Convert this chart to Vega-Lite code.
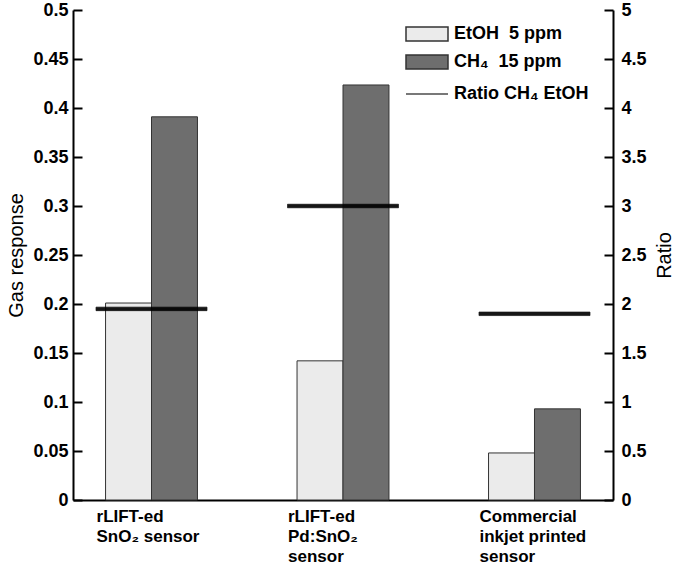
{
  "$schema": "https://vega.github.io/schema/vega-lite/v6.json",
  "autosize": {"type": "none"},
  "padding": {"left": 73, "top": 10, "right": 62, "bottom": 66},
  "width": 540,
  "height": 490,
  "background": "white",
  "config": {
    "view": {"stroke": null},
    "font": "Liberation Sans",
    "axis": {
      "domainColor": "black", "domainWidth": 2, "tickColor": "black", "tickWidth": 2,
      "labelFont": "Liberation Sans", "labelFontWeight": "bold", "labelFontSize": 18, "labelColor": "black",
      "titleFont": "Liberation Sans", "titleFontWeight": "normal", "titleFontSize": 20, "titleColor": "black",
      "grid": false
    },
    "legend": {
      "labelFont": "Liberation Sans", "labelFontWeight": "bold", "labelFontSize": 18, "labelColor": "black"
    }
  },
  "data": {
    "values": [
      {"sensor": "rLIFT-ed|SnO₂ sensor", "series": "EtOH\u00a0\u00a05 ppm", "value": 0.201, "ratio": 1.95},
      {"sensor": "rLIFT-ed|SnO₂ sensor", "series": "CH₄\u00a0\u00a015 ppm", "value": 0.391, "ratio": 1.95},
      {"sensor": "rLIFT-ed|Pd:SnO₂|sensor", "series": "EtOH\u00a0\u00a05 ppm", "value": 0.142, "ratio": 3.0},
      {"sensor": "rLIFT-ed|Pd:SnO₂|sensor", "series": "CH₄\u00a0\u00a015 ppm", "value": 0.4235, "ratio": 3.0},
      {"sensor": "Commercial|inkjet printed|sensor", "series": "EtOH\u00a0\u00a05 ppm", "value": 0.048, "ratio": 1.9},
      {"sensor": "Commercial|inkjet printed|sensor", "series": "CH₄\u00a0\u00a015 ppm", "value": 0.093, "ratio": 1.9}
    ]
  },
  "encoding": {
    "x": {
      "field": "sensor", "type": "nominal", "sort": null,
      "scale": {"paddingInner": 0.52, "paddingOuter": 0.17},
      "axis": {
        "title": null, "ticks": false, "labelAngle": 0, "labelAlign": "left", "labelBaseline": "top",
        "labelOffset": -55, "labelPadding": 8, "labelLineHeight": 20, "labelFontSize": 17,
        "labelExpr": "split(datum.label, '|')"
      }
    }
  },
  "layer": [
    {
      "mark": {"type": "bar", "stroke": "#333333", "strokeWidth": 1},
      "encoding": {
        "xOffset": {"field": "series", "type": "nominal", "sort": ["EtOH\u00a0\u00a05 ppm", "CH₄\u00a0\u00a015 ppm"], "scale": {"paddingInner": 0, "paddingOuter": 0}},
        "y": {
          "field": "value", "type": "quantitative",
          "scale": {"domain": [0, 0.5], "nice": false},
          "axis": {
            "title": "Gas response", "orient": "left",
            "values": [0, 0.05, 0.1, 0.15, 0.2, 0.25, 0.3, 0.35, 0.4, 0.45, 0.5],
            "format": ".2~f", "ticks": false, "labelPadding": 5, "titlePadding": 6
          }
        },
        "fill": {
          "field": "series", "type": "nominal",
          "sort": ["EtOH\u00a0\u00a05 ppm", "CH₄\u00a0\u00a015 ppm"],
          "scale": {"domain": ["EtOH\u00a0\u00a05 ppm", "CH₄\u00a0\u00a015 ppm"], "range": ["#ebebeb", "#6e6e6e"]},
          "legend": {
            "title": null, "orient": "none", "legendX": 339, "legendY": 9,
            "symbolType": "M-1.5,-0.5H1.5V0.5H-1.5Z", "symbolSize": 784,
            "symbolStrokeColor": "#333333", "symbolStrokeWidth": 1.5,
            "labelOffset": 12, "rowPadding": 3
          }
        }
      }
    },
    {
      "mark": {"type": "tick", "size": 111, "thickness": 3.5, "color": "black", "fill": "black", "strokeWidth": 0.5},
      "encoding": {
        "y": {
          "field": "ratio", "type": "quantitative",
          "scale": {"domain": [0, 5], "nice": false},
          "axis": {
            "title": "Ratio", "orient": "right", "titleAngle": 270, "titleBaseline": "bottom",
            "values": [0, 0.5, 1, 1.5, 2, 2.5, 3, 3.5, 4, 4.5, 5],
            "format": ".1~f", "ticks": false, "labelPadding": 8, "titlePadding": 28
          }
        },
        "stroke": {
          "datum": "Ratio CH₄ EtOH",
          "scale": {"range": ["black"]},
          "legend": {
            "title": null, "orient": "none", "legendX": 339, "legendY": 69,
            "symbolType": "M-1.5,0H1.5", "symbolSize": 784, "symbolFillColor": "transparent",
            "symbolStrokeColor": "black", "symbolStrokeWidth": 1.5,
            "labelOffset": 12
          }
        }
      }
    },
    {
      "mark": {"type": "point", "opacity": 0},
      "encoding": {
        "y": {
          "field": "value", "type": "quantitative",
          "scale": {"domain": [0, 0.5], "nice": false},
          "axis": {
            "title": null, "orient": "right", "offset": -540,
            "values": [0, 0.05, 0.1, 0.15, 0.2, 0.25, 0.3, 0.35, 0.4, 0.45, 0.5],
            "labels": false, "domain": false, "tickSize": 9
          }
        }
      }
    },
    {
      "mark": {"type": "point", "opacity": 0},
      "encoding": {
        "y": {
          "field": "ratio", "type": "quantitative",
          "scale": {"domain": [0, 5], "nice": false},
          "axis": {
            "title": null, "orient": "left", "offset": -540,
            "values": [0, 0.5, 1, 1.5, 2, 2.5, 3, 3.5, 4, 4.5, 5],
            "labels": false, "domain": false, "tickSize": 9
          }
        }
      }
    }
  ],
  "resolve": {"scale": {"y": "independent"}, "axis": {"y": "independent"}}
}
